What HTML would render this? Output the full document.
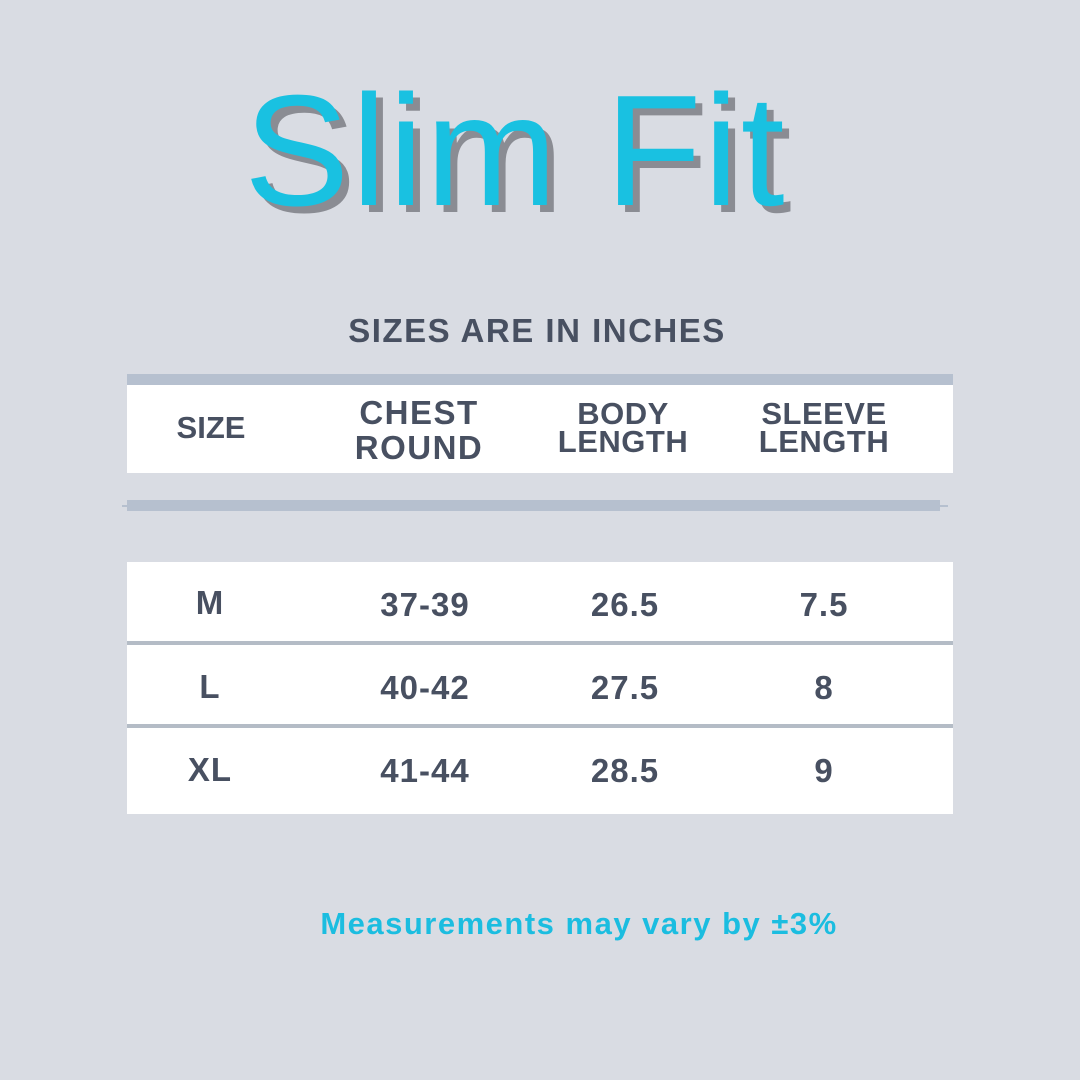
<!DOCTYPE html>
<html>
<head>
<meta charset="utf-8">
<style>
  html, body { margin:0; padding:0; }
  body { width:1080px; height:1080px; background:#d9dce3; position:relative; overflow:hidden;
         font-family:"Liberation Sans", Arial, sans-serif; }
  .abs { position:absolute; }
  .c { position:absolute; transform:translateX(-50%); white-space:nowrap; text-align:center; }
  .title { left:244px; top:72px; font-size:158px; line-height:158px; color:#19c1e1; letter-spacing:2px;
           text-shadow:7px 7px 0 #8a8c93; white-space:nowrap; }
  .sub { font-size:33px; line-height:40px; font-weight:bold; color:#485061; letter-spacing:1.5px; }
  .hd { font-weight:bold; color:#485061; }
  .val { font-size:33px; line-height:40px; font-weight:bold; color:#485061; letter-spacing:1px; }
  .foot { font-size:31px; line-height:40px; font-weight:bold; color:#1bbde0; letter-spacing:1.5px; }
</style>
</head>
<body>
  <div class="abs title">Slim Fit</div>

  <div class="c sub" style="left:537px; top:311px;">SIZES ARE IN INCHES</div>

  <!-- header -->
  <div class="abs" style="left:127px; top:374px; width:826px; height:11px; background:#b6c0cf;"></div>
  <div class="abs" style="left:127px; top:385px; width:826px; height:88px; background:#ffffff;"></div>

  <div class="c hd" style="left:211px; top:410px; font-size:31px; line-height:35px;">SIZE</div>
  <div class="c hd" style="left:419px; top:395px; font-size:33px; line-height:35px; letter-spacing:1.5px;">CHEST<br>ROUND</div>
  <div class="c hd" style="left:623px; top:400px; font-size:31px; line-height:28px; letter-spacing:0.5px;">BODY<br>LENGTH</div>
  <div class="c hd" style="left:824px; top:400px; font-size:31px; line-height:28px; letter-spacing:0.5px;">SLEEVE<br>LENGTH</div>

  <!-- lower bar -->
  <div class="abs" style="left:122px; top:505px; width:826px; height:2px; background:#b6c0cf;"></div>
  <div class="abs" style="left:127px; top:500px; width:813px; height:11px; background:#b6c0cf;"></div>

  <!-- rows -->
  <div class="abs" style="left:127px; top:562px; width:826px; height:252px; background:#ffffff;"></div>
  <div class="abs" style="left:127px; top:641px; width:826px; height:4px; background:#b4bcc6;"></div>
  <div class="abs" style="left:127px; top:724px; width:826px; height:4px; background:#b4bcc6;"></div>

  <div class="c val" style="left:210px; top:583px;">M</div>
  <div class="c val" style="left:425px; top:585px;">37-39</div>
  <div class="c val" style="left:625px; top:585px;">26.5</div>
  <div class="c val" style="left:824px; top:585px;">7.5</div>

  <div class="c val" style="left:210px; top:667px;">L</div>
  <div class="c val" style="left:425px; top:668px;">40-42</div>
  <div class="c val" style="left:625px; top:668px;">27.5</div>
  <div class="c val" style="left:824px; top:668px;">8</div>

  <div class="c val" style="left:210px; top:750px;">XL</div>
  <div class="c val" style="left:425px; top:751px;">41-44</div>
  <div class="c val" style="left:625px; top:751px;">28.5</div>
  <div class="c val" style="left:824px; top:751px;">9</div>

  <div class="c foot" style="left:579px; top:904px;">Measurements may vary by ±3%</div>
</body>
</html>
